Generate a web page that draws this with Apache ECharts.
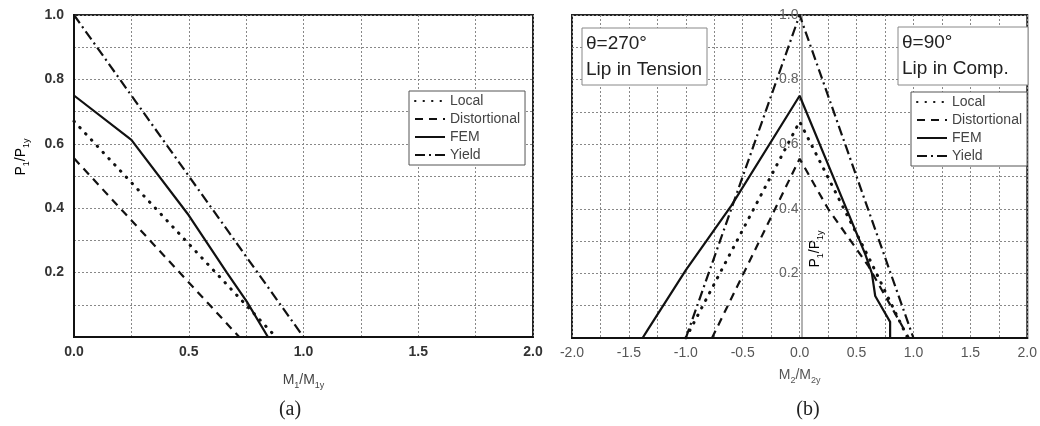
<!DOCTYPE html>
<html>
<head>
<meta charset="utf-8">
<script src="https://cdn.jsdelivr.net/npm/echarts@6/dist/echarts.min.js"></script>
<style>
  html, body { margin: 0; padding: 0; background: #fff; }
  #chart { width: 1040px; height: 426px; }
</style>
</head>
<body>
<div id="chart"></div>
<script>
const FONT = "Liberation Sans";
const SERIF = "Liberation Serif";

// series names (legend)
const seriesNames = ["Local", "Distortional", "FEM", "Yield"];

// (a) M1/M1y vs P1/P1y
const aLocal = [[0, 0.67], [0.88, 0]];
const aDist = [[0, 0.555], [0.72, 0]];
const aFem = [[0, 0.75], [0.25, 0.612], [0.5, 0.378], [0.666, 0.2], [0.753, 0.11], [0.845, 0]];
const aYield = [[0, 1], [1, 0]];

// (b) M2/M2y vs P1/P1y
const bLocal = [[-1.0, 0], [0, 0.67], [0.62, 0.24], [0.95, 0]];
const bDist = [[-0.77, 0], [0, 0.555], [0.25, 0.4], [0.6, 0.225], [0.96, 0]];
const bFem = [[-1.38, 0], [-1.335, 0.025], [-1.0, 0.21], [-0.6, 0.41], [0, 0.75],
              [0.578, 0.258], [0.635, 0.2], [0.664, 0.13], [0.795, 0.05], [0.795, 0]];
const bYield = [[-1, 0], [0, 1], [1, 0]];

// annotation boxes on (b)
const boxLeftText = "θ=270°\nLip in Tension";
const boxRightText = "θ=90°\nLip in Comp.";

const lineStyles = {
  Local: { type: [0.5, 8], width: 3, cap: "round", color: "#111" },
  Distortional: { type: [8, 6], width: 2.2, color: "#111" },
  FEM: { type: "solid", width: 2.2, color: "#111" },
  Yield: { type: [10, 4, 2, 4], width: 2.2, color: "#111" }
};

const gridLine = { show: true, lineStyle: { color: "#888", type: [2, 2], width: 1 } };

const subRich = (color, size) => ({
  n: { fontSize: size, lineHeight: 20, color: color, fontFamily: FONT },
  s: { fontSize: size - 5, color: color, fontFamily: FONT, verticalAlign: "bottom" }
});

function mkSeries(name, data, idx) {
  return {
    name: name, type: "line", data: data, xAxisIndex: idx, yAxisIndex: idx,
    symbol: "none", lineStyle: lineStyles[name], itemStyle: { color: "#111" },
    emphasis: { disabled: true }
  };
}

function mkLegend(left, top) {
  return {
    data: seriesNames, orient: "vertical", left: left, top: top, padding: [3, 5],
    itemWidth: 30, itemHeight: 14, itemGap: 4, backgroundColor: "#fff",
    borderColor: "#555", borderWidth: 1, selectedMode: false,
    itemStyle: { color: "rgba(0,0,0,0)", borderWidth: 0 },
    textStyle: { fontFamily: FONT, fontSize: 14, color: "#444" }
  };
}

const chart = echarts.init(document.getElementById("chart"));
chart.setOption({
  animation: false,
  backgroundColor: "#fff",
  grid: [
    { left: 74, right: 507, top: 15, bottom: 89, show: true, borderColor: "#222", borderWidth: 2 },
    { left: 572, right: 9, top: 15, bottom: 88, show: true, borderColor: "#222", borderWidth: 2 }
  ],
  xAxis: [
    {
      gridIndex: 0, type: "value", min: 0, max: 2, interval: 0.5,
      axisLine: { lineStyle: { color: "#111", width: 2 } },
      axisTick: { show: false },
      axisLabel: { margin: 8, fontFamily: FONT, fontSize: 14, fontWeight: "bold", color: "#333",
                   formatter: v => v.toFixed(1) },
      splitLine: gridLine, minorTick: { show: false, splitNumber: 2 }, minorSplitLine: gridLine,
      name: "{n|M}{s|1}{n|/M}{s|1y}", nameLocation: "middle", nameGap: 33,
      nameTextStyle: { rich: subRich("#444", 14) }
    },
    {
      gridIndex: 1, type: "value", min: -2, max: 2, interval: 0.5,
      axisLine: { onZero: false, lineStyle: { color: "#111", width: 2 } },
      axisTick: { show: false },
      axisLabel: { margin: 8, fontFamily: FONT, fontSize: 14, color: "#555",
                   formatter: v => v.toFixed(1) },
      splitLine: gridLine, minorTick: { show: false, splitNumber: 2 }, minorSplitLine: gridLine,
      name: "{n|M}{s|2}{n|/M}{s|2y}", nameLocation: "middle", nameGap: 27,
      nameTextStyle: { rich: subRich("#555", 14) }
    }
  ],
  yAxis: [
    {
      gridIndex: 0, type: "value", min: 0, max: 1, interval: 0.2,
      axisLine: { lineStyle: { color: "#111", width: 2 } },
      axisTick: { show: false },
      axisLabel: { margin: 10, fontFamily: FONT, fontSize: 14, fontWeight: "bold", color: "#333",
                   formatter: v => (v === 0 ? "" : v.toFixed(1)) },
      splitLine: gridLine, minorTick: { show: false, splitNumber: 2 }, minorSplitLine: gridLine
    },
    {
      gridIndex: 1, type: "value", min: 0, max: 1, interval: 0.2,
      offset: -229.5,
      axisLine: { onZero: false, lineStyle: { color: "#999", width: 1.5 } },
      axisTick: { show: false },
      axisLabel: { margin: 3, fontFamily: FONT, fontSize: 14, color: "#666",
                   formatter: v => (v === 0 ? "" : v.toFixed(1)) },
      splitLine: gridLine, minorTick: { show: false, splitNumber: 2 }, minorSplitLine: gridLine
    }
  ],
  legend: [mkLegend(409, 91), mkLegend(911, 92)],
  graphic: [
    { type: "text", x: 21, y: 157, rotation: Math.PI / 2,
      style: { text: "{n|P}{s|1}{n|/P}{s|1y}", rich: subRich("#444", 14), align: "center", verticalAlign: "middle" } },
    { type: "text", x: 815, y: 249, rotation: Math.PI / 2,
      style: { text: "{n|P}{s|1}{n|/P}{s|1y}", rich: subRich("#666", 14), align: "center", verticalAlign: "middle" } },
    { type: "text", x: 290, y: 410,
      style: { text: "(a)", font: "20px " + SERIF, fill: "#222", align: "center", verticalAlign: "middle" } },
    { type: "text", x: 808, y: 410,
      style: { text: "(b)", font: "20px " + SERIF, fill: "#222", align: "center", verticalAlign: "middle" } },
    { type: "rect", shape: { x: 582, y: 28, width: 125, height: 57 },
      style: { fill: "#fff", stroke: "#888", lineWidth: 1 }, z: 10 },
    { type: "text", x: 586, y: 31, z: 11,
      style: { text: boxLeftText, font: "19px " + FONT, lineHeight: 26, fill: "#222" } },
    { type: "rect", shape: { x: 898, y: 27, width: 130, height: 58 },
      style: { fill: "#fff", stroke: "#888", lineWidth: 1 }, z: 10 },
    { type: "text", x: 902, y: 30, z: 11,
      style: { text: boxRightText, font: "19px " + FONT, lineHeight: 26, fill: "#222" } }
  ],
  series: [
    mkSeries("Local", aLocal, 0),
    mkSeries("Distortional", aDist, 0),
    mkSeries("FEM", aFem, 0),
    mkSeries("Yield", aYield, 0),
    mkSeries("Local", bLocal, 1),
    mkSeries("Distortional", bDist, 1),
    mkSeries("FEM", bFem, 1),
    mkSeries("Yield", bYield, 1)
  ]
});
</script>
</body>
</html>
